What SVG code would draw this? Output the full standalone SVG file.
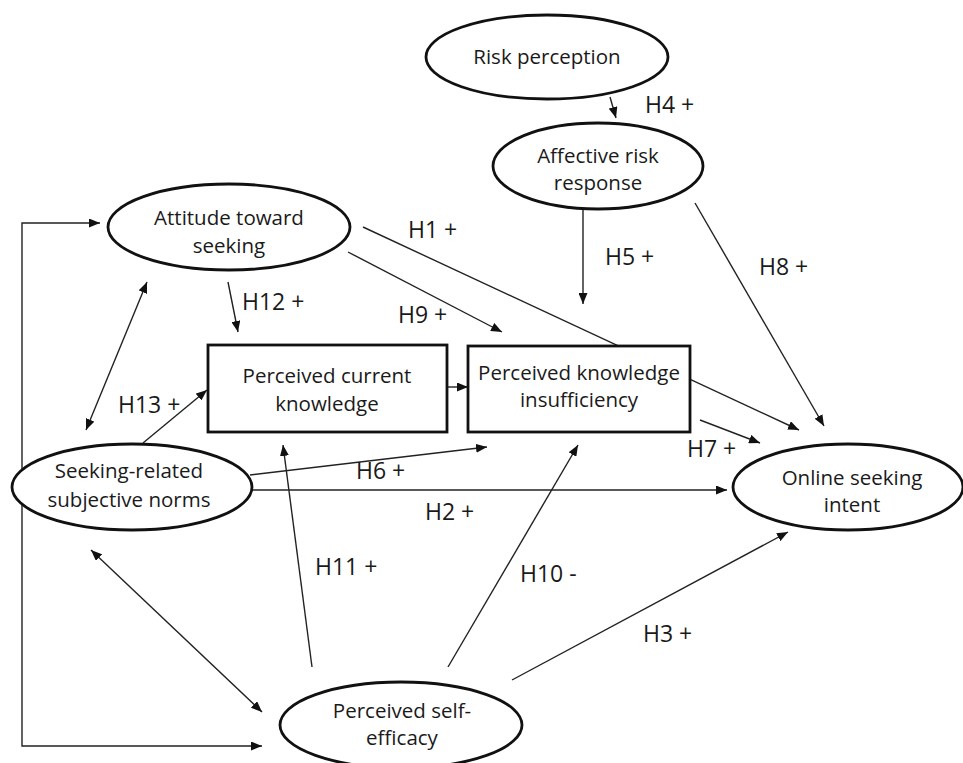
<svg xmlns="http://www.w3.org/2000/svg" width="963" height="763" viewBox="0 0 963 763">
<style>
.node ellipse, .node rect { fill: #fff; stroke: #111; stroke-width: 2.8; }
.node text { font-family: "Open Sans", "Liberation Sans", sans-serif; font-size: 20.5px; fill: #1a1a1a; text-anchor: middle; }
.conn line, .conn polyline { stroke: #222; stroke-width: 1.4; fill: none; }
.lbl { font-family: "Open Sans", "Liberation Sans", sans-serif; font-size: 23px; fill: #1a1a1a; }
</style>
<defs>
<marker id="ah" markerUnits="userSpaceOnUse" markerWidth="11" markerHeight="9" refX="11" refY="4.5" orient="auto-start-reverse">
<path d="M0,0 L11,4.5 L0,9 z" fill="#111"/>
</marker>
</defs>
<rect width="963" height="763" fill="#fff"/>
<g id="connectors" class="conn">
<polyline points="100,223 22,223 22,746 262,746" marker-start="url(#ah)" marker-end="url(#ah)"/>
<line x1="86" y1="430" x2="147" y2="282" marker-start="url(#ah)" marker-end="url(#ah)"/>
<line x1="91" y1="550" x2="262" y2="712" marker-start="url(#ah)" marker-end="url(#ah)"/>
<line x1="610" y1="97" x2="616" y2="118" marker-end="url(#ah)"/>
<line x1="363" y1="227" x2="799" y2="430" marker-end="url(#ah)"/>
<line x1="348" y1="252" x2="502" y2="332" marker-end="url(#ah)"/>
<line x1="228" y1="282" x2="238" y2="332" marker-end="url(#ah)"/>
<line x1="143" y1="443" x2="207" y2="390" marker-end="url(#ah)"/>
<line x1="583" y1="210" x2="583" y2="304" marker-end="url(#ah)"/>
<line x1="695" y1="203" x2="824" y2="426" marker-end="url(#ah)"/>
<line x1="700" y1="420" x2="760" y2="443" marker-end="url(#ah)"/>
<line x1="447" y1="387" x2="468" y2="387" marker-end="url(#ah)"/>
<line x1="250" y1="475" x2="487" y2="447" marker-end="url(#ah)"/>
<line x1="252" y1="490" x2="727" y2="490" marker-end="url(#ah)"/>
<line x1="312" y1="667" x2="283" y2="445" marker-end="url(#ah)"/>
<line x1="448" y1="667" x2="578" y2="445" marker-end="url(#ah)"/>
<line x1="512" y1="680" x2="788" y2="532" marker-end="url(#ah)"/>
</g>
<g id="labels">
<text class="lbl" x="645" y="113">H4 +</text>
<text class="lbl" x="408" y="238">H1 +</text>
<text class="lbl" x="605" y="265">H5 +</text>
<text class="lbl" x="759" y="275">H8 +</text>
<text class="lbl" x="242" y="310">H12 +</text>
<text class="lbl" x="398" y="323">H9 +</text>
<text class="lbl" x="118" y="413">H13 +</text>
<text class="lbl" x="687" y="457">H7 +</text>
<text class="lbl" x="356" y="479">H6 +</text>
<text class="lbl" x="425" y="520">H2 +</text>
<text class="lbl" x="315" y="575">H11 +</text>
<text class="lbl" x="520" y="582">H10 -</text>
<text class="lbl" x="643" y="642">H3 +</text>
</g>
<g id="risk-perception" class="node">
<ellipse cx="547" cy="57" rx="121" ry="42"/>
<text x="547" y="64">Risk perception</text>
</g>
<g id="affective-risk-response" class="node">
<ellipse cx="598" cy="166" rx="105" ry="43"/>
<text x="598" y="163">Affective risk</text>
<text x="598" y="190">response</text>
</g>
<g id="attitude-toward-seeking" class="node">
<ellipse cx="229" cy="227" rx="121" ry="43"/>
<text x="229" y="225">Attitude toward</text>
<text x="229" y="253">seeking</text>
</g>
<g id="perceived-current-knowledge" class="node">
<rect x="208" y="345" width="239" height="87"/>
<text x="327" y="383">Perceived current</text>
<text x="327" y="411">knowledge</text>
</g>
<g id="perceived-knowledge-insufficiency" class="node">
<rect x="468" y="346" width="222" height="86"/>
<text x="579" y="380">Perceived knowledge</text>
<text x="579" y="407">insufficiency</text>
</g>
<g id="seeking-related-subjective-norms" class="node">
<ellipse cx="132" cy="487" rx="120" ry="43"/>
<text x="129" y="478">Seeking-related</text>
<text x="129" y="507">subjective norms</text>
</g>
<g id="online-seeking-intent" class="node">
<ellipse cx="848" cy="487" rx="115" ry="43"/>
<text x="852" y="485">Online seeking</text>
<text x="852" y="512">intent</text>
</g>
<g id="perceived-self-efficacy" class="node">
<ellipse cx="401" cy="725" rx="121" ry="43"/>
<text x="402" y="718">Perceived self-</text>
<text x="402" y="745">efficacy</text>
</g>
</svg>
